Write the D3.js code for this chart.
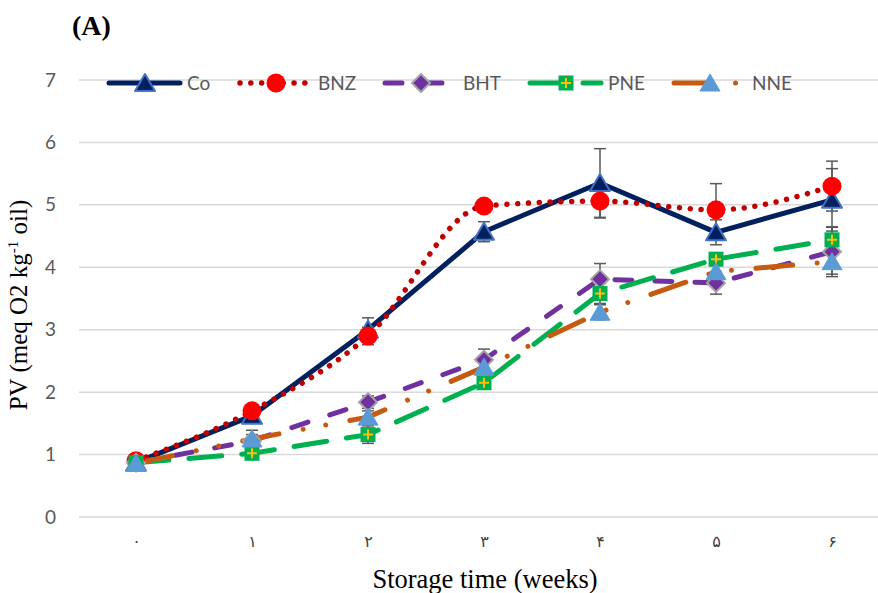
<!DOCTYPE html>
<html lang="en">
<head>
    <meta charset="UTF-8" />
    <title>PV over storage time</title>
    <script src="https://d3js.org/d3.v7.min.js"></script>
    <style>
        body { margin: 0; background: #fff; }
        svg { display: block; }
    </style>
</head>
<body>
    <script>
        var w = 878;
        var h = 593;

        // Data
        var weeks = [0, 1, 2, 3, 4, 5, 6];
        var weekLabels = ["۰", "۱", "۲", "۳", "۴", "۵", "۶"];
        var yTicks = [0, 1, 2, 3, 4, 5, 6, 7];
        var seriesNames = ["Co", "BNZ", "BHT", "PNE", "NNE"];

        var coValues  = [0.87, 1.62, 3.00, 4.57, 5.35, 4.56, 5.08];
        var bnzValues = [0.90, 1.70, 2.90, 4.98, 5.06, 4.92, 5.30];
        var bhtValues = [0.87, 1.22, 1.84, 2.52, 3.81, 3.75, 4.25];
        var pneValues = [0.87, 1.02, 1.32, 2.15, 3.58, 4.13, 4.44];
        var nneValues = [0.86, 1.25, 1.60, 2.40, 3.28, 3.93, 4.09];

        var coErr  = [0.04, 0.06, 0.19, 0.16, 0.55, 0.20, 0.50];
        var bnzErr = [0.04, 0.05, 0.14, 0.05, 0.27, 0.42, 0.40];
        var bhtErr = [0.03, 0.10, 0.10, 0.17, 0.25, 0.18, 0.40];
        var pneErr = [0.03, 0.05, 0.14, 0.07, 0.16, 0.10, 0.20];
        var nneErr = [0.03, 0.14, 0.10, 0.15, 0.12, 0.10, 0.20];

        var series = [
            { name: seriesNames[0], values: coValues,  err: coErr,  color: "#002060", dash: null, width: 5, smooth: false, marker: "tri" },
            { name: seriesNames[1], values: bnzValues, err: bnzErr, color: "#C00000", dash: "0.01 10.8", width: 5.5, smooth: true, marker: "circle" },
            { name: seriesNames[2], values: bhtValues, err: bhtErr, color: "#7030A0", dash: "17 23", width: 5, smooth: false, marker: "diamond" },
            { name: seriesNames[3], values: pneValues, err: pneErr, color: "#00B050", dash: "33 20", width: 5, smooth: false, marker: "square" },
            { name: seriesNames[4], values: nneValues, err: nneErr, color: "#C55A11", dash: "37 24.5 0.01 23 0.01 24.5", width: 5, smooth: false, marker: "tri2" }
        ];

        var svg = d3.select("body")
            .append("svg")
            .attr("width", w)
            .attr("height", h);

        // Scales
        var xScale = d3.scalePoint()
            .domain(weeks)
            .range([136, 832]);

        var yScale = d3.scaleLinear()
            .domain([0, 7])
            .range([517, 80]);

        // Gridlines
        svg.selectAll("line.grid")
            .data(yTicks)
            .enter()
            .append("line")
            .attr("class", "grid")
            .attr("x1", 79)
            .attr("x2", w)
            .attr("y1", function(d) { return yScale(d); })
            .attr("y2", function(d) { return yScale(d); })
            .attr("stroke", "#D9D9D9")
            .attr("stroke-width", 1.5);

        // Y axis labels
        var yAxis = d3.axisLeft(yScale)
            .tickValues(yTicks)
            .tickSize(0)
            .tickPadding(0)
            .tickFormat(d3.format("d"));

        var yg = svg.append("g")
            .attr("transform", "translate(56,0)")
            .call(yAxis);
        yg.select(".domain").remove();
        yg.selectAll("text")
            .attr("fill", "#595959")
            .style("font-family", "Lato, 'Open Sans', sans-serif")
            .style("font-size", "19px");

        // X axis labels (Persian digits)
        var xAxis = d3.axisBottom(xScale)
            .tickSize(0)
            .tickPadding(0)
            .tickFormat(function(d, i) { return weekLabels[i]; });

        var xg = svg.append("g")
            .attr("transform", "translate(0,536)")
            .call(xAxis);
        xg.select(".domain").remove();
        xg.selectAll("text")
            .attr("fill", "#404040")
            .style("font-family", "'Times New Roman', 'DejaVu Sans', serif")
            .style("font-size", "16px");

        // Titles
        svg.append("text")
            .attr("x", 485)
            .attr("y", 588)
            .attr("text-anchor", "middle")
            .style("font-family", "'Liberation Serif', 'Times New Roman', serif")
            .style("font-size", "26.5px")
            .attr("fill", "#000")
            .text("Storage time (weeks)");

        var yTitle = svg.append("text")
            .attr("transform", "translate(27,305) rotate(-90)")
            .attr("text-anchor", "middle")
            .style("font-family", "'Liberation Serif', 'Times New Roman', serif")
            .style("font-size", "25px")
            .attr("fill", "#000");
        yTitle.append("tspan").text("PV (meq O2 kg");
        yTitle.append("tspan").attr("dy", -9).style("font-size", "15px").text("-1");
        yTitle.append("tspan").attr("dy", 9).text(" oil)");

        svg.append("text")
            .attr("x", 72)
            .attr("y", 35)
            .style("font-family", "'Liberation Serif', 'Times New Roman', serif")
            .style("font-size", "28px")
            .style("font-weight", "bold")
            .attr("fill", "#000")
            .text("(A)");

        // Marker drawing
        function drawMarker(g, type) {
            if (type === "tri") {
                g.append("path")
                    .attr("d", "M0,-9 L10,8 L-10,8 Z")
                    .attr("fill", "#002060")
                    .attr("stroke", "#4472C4")
                    .attr("stroke-width", 2)
                    .attr("stroke-linejoin", "round");
            } else if (type === "circle") {
                g.append("circle")
                    .attr("r", 9.5)
                    .attr("fill", "#FF0000");
            } else if (type === "diamond") {
                g.append("path")
                    .attr("d", "M0,-9 L9,0 L0,9 L-9,0 Z")
                    .attr("fill", "#7030A0")
                    .attr("stroke", "#A5A5A5")
                    .attr("stroke-width", 2);
            } else if (type === "square") {
                g.append("rect")
                    .attr("x", -7.5).attr("y", -7.5)
                    .attr("width", 15).attr("height", 15)
                    .attr("fill", "#00B050");
                g.append("path")
                    .attr("d", "M-5,0 L5,0 M0,-5 L0,5")
                    .attr("stroke", "#FFC000")
                    .attr("stroke-width", 2);
            } else if (type === "tri2") {
                g.append("path")
                    .attr("d", "M0,-9 L10,8 L-10,8 Z")
                    .attr("fill", "#5B9BD5")
                    .attr("stroke", "#5B9BD5")
                    .attr("stroke-width", 1);
            }
        }

        // Lines
        series.forEach(function(s) {
            var line = d3.line()
                .x(function(d, i) { return xScale(weeks[i]); })
                .y(function(d) { return yScale(d); })
                .curve(s.smooth ? d3.curveMonotoneX : d3.curveLinear);

            svg.append("path")
                .datum(s.values)
                .attr("d", line)
                .attr("fill", "none")
                .attr("stroke", s.color)
                .attr("stroke-width", s.width)
                .attr("stroke-linecap", "round")
                .attr("stroke-linejoin", "round")
                .attr("stroke-dasharray", s.dash);
        });

        // Error bars
        series.forEach(function(s) {
            var eg = svg.append("g");
            s.values.forEach(function(v, i) {
                var cx = xScale(weeks[i]);
                var top = yScale(v + s.err[i]);
                var bot = yScale(v - s.err[i]);
                eg.append("line")
                    .attr("x1", cx).attr("x2", cx)
                    .attr("y1", top).attr("y2", bot)
                    .attr("stroke", "#595959").attr("stroke-width", 1.5);
                [top, bot].forEach(function(yy) {
                    eg.append("line")
                        .attr("x1", cx - 6).attr("x2", cx + 6)
                        .attr("y1", yy).attr("y2", yy)
                        .attr("stroke", "#595959").attr("stroke-width", 1.5);
                });
            });
        });

        // Markers
        series.forEach(function(s) {
            s.values.forEach(function(v, i) {
                var g = svg.append("g")
                    .attr("transform", "translate(" + xScale(weeks[i]) + "," + yScale(v) + ")");
                drawMarker(g, s.marker);
            });
        });

        // Legend
        var legendX = [109, 240, 385, 530, 674];
        var legendY = 83;
        series.forEach(function(s, i) {
            var lx = legendX[i];
            svg.append("line")
                .attr("x1", lx).attr("x2", lx + 71)
                .attr("y1", legendY).attr("y2", legendY)
                .attr("stroke", s.color)
                .attr("stroke-width", s.width)
                .attr("stroke-linecap", "round")
                .attr("stroke-dasharray", s.dash);
            var g = svg.append("g")
                .attr("transform", "translate(" + (lx + 36) + "," + legendY + ")");
            drawMarker(g, s.marker);
            svg.append("text")
                .attr("x", lx + 78)
                .attr("y", legendY + 7)
                .attr("fill", "#595959")
                .style("font-family", "Lato, 'Open Sans', sans-serif")
                .style("font-size", "19px")
                .text(s.name);
        });
    </script>
</body>
</html>
